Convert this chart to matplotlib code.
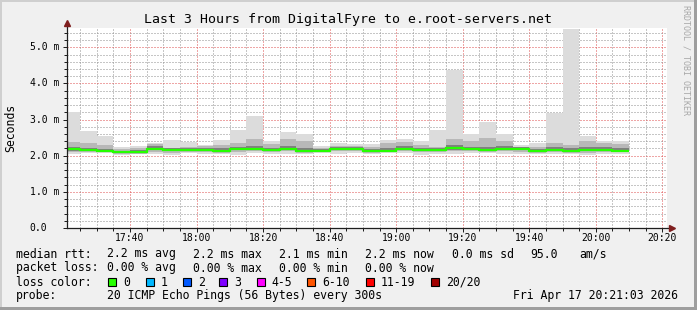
import matplotlib
matplotlib.use("Agg")
import matplotlib.pyplot as plt
from matplotlib.patches import Rectangle
from matplotlib.transforms import Affine2D
from matplotlib.ticker import MultipleLocator

# 5 minute bins (start times), values in ms
bin_starts = ["17:20", "17:25", "17:30", "17:35", "17:40", "17:45", "17:50", "17:55",
              "18:00", "18:05", "18:10", "18:15", "18:20", "18:25", "18:30", "18:35",
              "18:40", "18:45", "18:50", "18:55", "19:00", "19:05", "19:10", "19:15",
              "19:20", "19:25", "19:30", "19:35", "19:40", "19:45", "19:50", "19:55",
              "20:00", "20:05"]
bin_end = "20:10"

rtt_max = [3.20, 2.68, 2.55, 2.24, 2.27, 2.35, 2.43, 2.38, 2.29, 2.43, 2.71, 3.09,
           2.40, 2.65, 2.59, 2.28, 2.36, 2.32, 2.32, 2.43, 2.46, 2.41, 2.71, 4.36,
           2.61, 2.93, 2.61, 2.31, 2.35, 3.19, 5.50, 2.55, 2.42, 2.42]
rtt_hi = [2.37, 2.34, 2.29, 2.19, 2.22, 2.32, 2.22, 2.25, 2.27, 2.30, 2.35, 2.45,
          2.32, 2.45, 2.40, 2.22, 2.28, 2.27, 2.25, 2.35, 2.38, 2.30, 2.25, 2.45,
          2.40, 2.50, 2.40, 2.25, 2.25, 2.35, 2.30, 2.40, 2.35, 2.32]
dark_hi = [2.25, 2.22, 2.18, 2.14, 2.16, 2.26, 2.21, 2.22, 2.21, 2.20, 2.25, 2.27,
           2.21, 2.27, 2.22, 2.18, 2.24, 2.23, 2.19, 2.22, 2.26, 2.22, 2.21, 2.30,
           2.25, 2.24, 2.26, 2.23, 2.19, 2.24, 2.20, 2.24, 2.23, 2.21]
rtt_med = [2.18, 2.15, 2.13, 2.09, 2.11, 2.19, 2.17, 2.17, 2.15, 2.14, 2.19, 2.19,
           2.15, 2.18, 2.14, 2.14, 2.19, 2.19, 2.14, 2.14, 2.18, 2.16, 2.16, 2.22,
           2.19, 2.15, 2.19, 2.19, 2.14, 2.17, 2.13, 2.15, 2.15, 2.13]
dark_lo = [2.14, 2.12, 2.11, 2.07, 2.08, 2.15, 2.13, 2.14, 2.12, 2.11, 2.15, 2.16,
           2.12, 2.15, 2.11, 2.12, 2.15, 2.15, 2.11, 2.12, 2.15, 2.13, 2.12, 2.17,
           2.16, 2.12, 2.15, 2.15, 2.11, 2.14, 2.10, 2.12, 2.12, 2.11]
rtt_lo = [2.10, 2.09, 2.09, 2.05, 2.06, 2.11, 2.08, 2.11, 2.09, 2.08, 2.09, 2.13,
          2.09, 2.12, 2.08, 2.10, 2.12, 2.12, 2.08, 2.10, 2.13, 2.09, 2.10, 2.12,
          2.14, 2.10, 2.12, 2.11, 2.08, 2.11, 2.08, 2.08, 2.09, 2.09]
rtt_min = [2.06, 2.07, 2.08, 2.03, 2.04, 2.06, 2.02, 2.07, 2.05, 2.04, 2.03, 2.08,
           2.05, 2.06, 2.04, 2.07, 2.06, 2.07, 2.05, 2.07, 2.08, 2.03, 2.05, 2.06,
           2.08, 2.07, 2.06, 2.05, 2.04, 2.06, 2.05, 2.03, 2.04, 2.06]

x_labels = ["17:40", "18:00", "18:20", "18:40", "19:00", "19:20", "19:40", "20:00", "20:20"]
y_labels = ["0.0", "1.0 m", "2.0 m", "3.0 m", "4.0 m", "5.0 m"]

title = "Last 3 Hours from DigitalFyre to e.root-servers.net"
rtt_stats = ["2.2 ms avg", "2.2 ms max", "2.1 ms min", "2.2 ms now", "0.0 ms sd", "95.0", "am/s"]
loss_stats = ["0.00 % avg", "0.00 % max", "0.00 % min", "0.00 % now"]
loss_names = ["0", "1", "2", "3", "4-5", "6-10", "11-19", "20/20"]
loss_colors = ["#26ff00", "#00b8ff", "#0059ff", "#7e00ff", "#ff00ff", "#ff5500", "#ff0000", "#a00000"]
probe_text = "20 ICMP Echo Pings (56 Bytes) every 300s"
stamp = "Fri Apr 17 20:21:03 2026"


def to_min(s):
    h, m = s.split(":")
    return int(h) * 60 + int(m)


W, H = 697, 310
MONO = "DejaVu Sans Mono"

fig = plt.figure(figsize=(W / 100, H / 100), dpi=100, facecolor="#f0f0f0")
pix = Affine2D().scale(1 / W, -1 / H).translate(0, 1) + fig.transFigure

# border like rrdtool shade
for (x, y, w, h, c) in [(0, 0, W, 2, "#cfcfcf"), (0, 0, 2, H, "#cfcfcf"),
                        (W - 3, 0, 3, H, "#9e9e9e"), (0, H - 3, W, 3, "#9e9e9e")]:
    fig.add_artist(Rectangle((x, y), w, h, transform=pix, color=c, lw=0))

ax = fig.add_axes([67 / W, (H - 228) / H, 600 / W, 200 / H])
ax.set_facecolor("white")

edges = [to_min(s) for s in bin_starts] + [to_min(bin_end)]

# smoke
ax.stairs(rtt_max, edges, baseline=rtt_min, fill=True, color="#dcdcdc", lw=0, zorder=1)
ax.stairs(rtt_hi, edges, baseline=rtt_lo, fill=True, color="#b8b8b8", lw=0, zorder=1.1)
ax.stairs(dark_hi, edges, baseline=dark_lo, fill=True, color="#808080", lw=0, zorder=1.2)
ax.stairs(rtt_med, edges, baseline=None, color=loss_colors[0], lw=1.6, zorder=4)

ax.set_xlim(to_min("17:21") + 0.05, to_min("17:21") + 180.4)
ax.set_ylim(0, 5.534)

ax.set_xticks([to_min(s) for s in x_labels])
ax.xaxis.set_minor_locator(MultipleLocator(5))
ax.set_yticks(range(len(y_labels)))
ax.yaxis.set_minor_locator(MultipleLocator(0.2))
ax.tick_params(which="both", labelbottom=False, labelleft=False, color="#1f1f1f",
               width=0.72, direction="out")
ax.tick_params(which="major", length=3)
ax.tick_params(which="minor", length=2)

ax.set_axisbelow(True)
ax.grid(which="minor", color=(0.56, 0.56, 0.56, 0.25), linestyle=(0, (1, 2)), lw=0.72)
ax.grid(which="major", color=(0.87, 0.31, 0.31, 0.45), linestyle=(0, (1, 2)), lw=0.72)

for s in ax.spines.values():
    s.set_visible(False)
ax.plot([0, 1.006], [0, 0], transform=ax.transAxes, color="#1f1f1f", lw=0.9, clip_on=False, zorder=5)
ax.plot([0, 0], [0, 1.02], transform=ax.transAxes, color="#1f1f1f", lw=0.9, clip_on=False, zorder=5)
ax.plot([1.009], [0], marker=">", ms=5, color="#7f1f1f", transform=ax.transAxes, clip_on=False, zorder=6)
ax.plot([0], [1.025], marker="^", ms=5, color="#7f1f1f", transform=ax.transAxes, clip_on=False, zorder=6)

# axis labels
for s in x_labels:
    ax.text(to_min(s), -10 / 36.14, s, ha="center", va="center", family=MONO, fontsize=7)
for i, s in enumerate(y_labels):
    y = 228 - i * 36.14
    fig.text(29.5, y, s, transform=pix, ha="left", va="center", family=MONO, fontsize=7)

fig.text(348.5, 19, title, transform=pix, ha="center", va="center", family=MONO, fontsize=9.5)
fig.text(11, 128, "Seconds", transform=pix, ha="center", va="center", rotation=90,
         family=MONO, fontsize=8.3)
fig.text(686, 5, "RRDTOOL / TOBI OETIKER", transform=pix, ha="center", va="top",
         rotation=270, family=MONO, fontsize=6, color="#a8a8a8")

# legend
LF = 8.3
cols = [107.3, 193.3, 279.3, 365, 451.7, 530, 579.3]
fig.text(16, 254, "median rtt:", transform=pix, va="center", family=MONO, fontsize=LF)
for x, s in zip(cols, rtt_stats):
    fig.text(x, 254, s, transform=pix, va="center", family=MONO, fontsize=LF)
fig.text(16, 268, "packet loss:", transform=pix, va="center", family=MONO, fontsize=LF)
for x, s in zip(cols, loss_stats):
    fig.text(x, 268, s, transform=pix, va="center", family=MONO, fontsize=LF)
fig.text(16, 282, "loss color:", transform=pix, va="center", family=MONO, fontsize=LF)
box_x = [108.3, 145.7, 182.7, 219.3, 256.7, 307.3, 365.7, 430.7]
for x, name, c in zip(box_x, loss_names, loss_colors):
    fig.add_artist(Rectangle((x, 278), 8, 8, transform=pix, facecolor=c, edgecolor="black", lw=0.8))
    fig.text(x + 15, 282, name, transform=pix, va="center", family=MONO, fontsize=LF)
fig.text(16, 296, "probe:", transform=pix, va="center", family=MONO, fontsize=LF)
fig.text(107.3, 296, probe_text, transform=pix, va="center", family=MONO, fontsize=LF)
fig.text(513.3, 296, stamp, transform=pix, va="center", family=MONO, fontsize=LF)

fig.savefig("out.png", dpi=100, facecolor=fig.get_facecolor())
